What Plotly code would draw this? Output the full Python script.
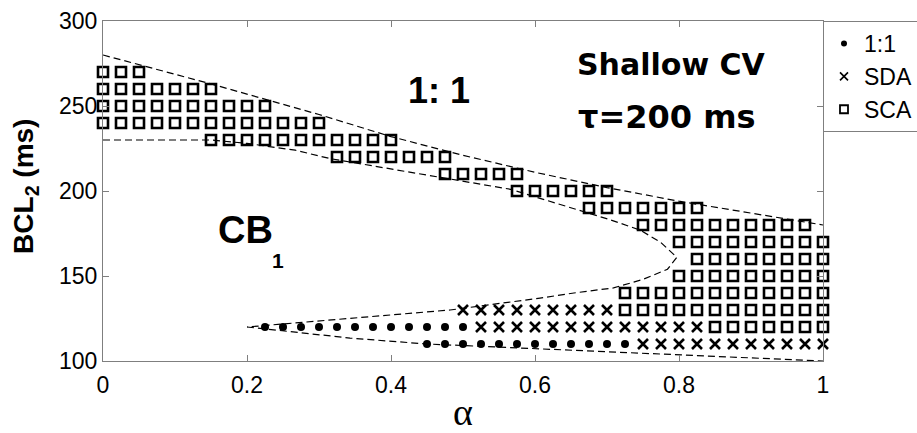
import plotly.graph_objects as go

# ---- data ----
# SCA (squares): BCL row -> alpha values
sca_bcl = [270, 260, 250, 240, 230, 220, 210, 200, 190, 180, 170, 160, 150, 140, 130, 120]
sca_alpha = [
    [0, 0.025, 0.05],
    [0, 0.025, 0.05, 0.075, 0.1, 0.125, 0.15],
    [0, 0.025, 0.05, 0.075, 0.1, 0.125, 0.15, 0.175, 0.2, 0.225],
    [0, 0.025, 0.05, 0.075, 0.1, 0.125, 0.15, 0.175, 0.2, 0.225, 0.25, 0.275, 0.3],
    [0.15, 0.175, 0.2, 0.225, 0.25, 0.275, 0.3, 0.325, 0.35, 0.375, 0.4],
    [0.325, 0.35, 0.375, 0.4, 0.425, 0.45, 0.475],
    [0.475, 0.5, 0.525, 0.55, 0.575],
    [0.575, 0.6, 0.625, 0.65, 0.675, 0.7],
    [0.675, 0.7, 0.725, 0.75, 0.775, 0.8, 0.825],
    [0.75, 0.775, 0.8, 0.825, 0.85, 0.875, 0.9, 0.925, 0.95, 0.975],
    [0.8, 0.825, 0.85, 0.875, 0.9, 0.925, 0.95, 0.975, 1.0],
    [0.825, 0.85, 0.875, 0.9, 0.925, 0.95, 0.975, 1.0],
    [0.8, 0.825, 0.85, 0.875, 0.9, 0.925, 0.95, 0.975, 1.0],
    [0.725, 0.75, 0.775, 0.8, 0.825, 0.85, 0.875, 0.9, 0.925, 0.95, 0.975, 1.0],
    [0.725, 0.75, 0.775, 0.8, 0.825, 0.85, 0.875, 0.9, 0.925, 0.95, 0.975, 1.0],
    [0.85, 0.875, 0.9, 0.925, 0.95, 0.975, 1.0],
]

# SDA (crosses)
sda_bcl = [130, 120, 110]
sda_alpha = [
    [0.5, 0.525, 0.55, 0.575, 0.6, 0.625, 0.65, 0.675, 0.7],
    [0.525, 0.55, 0.575, 0.6, 0.625, 0.65, 0.675, 0.7, 0.725, 0.75, 0.775, 0.8, 0.825],
    [0.75, 0.775, 0.8, 0.825, 0.85, 0.875, 0.9, 0.925, 0.95, 0.975, 1.0],
]

# 1:1 (dots)
one_bcl = [120, 110]
one_alpha = [
    [0.225, 0.25, 0.275, 0.3, 0.325, 0.35, 0.375, 0.4, 0.425, 0.45, 0.475, 0.5],
    [0.45, 0.475, 0.5, 0.525, 0.55, 0.575, 0.6, 0.625, 0.65, 0.675, 0.7, 0.725],
]

# dashed boundary curves
upper_alpha = [0, 0.15, 0.3, 0.4, 0.5, 0.6, 0.7, 0.8, 0.9, 1.0]
upper_bcl = [280, 263, 245, 232, 221, 211, 202, 194, 187, 180]

nose_alpha = [0, 0.15, 0.2, 0.267, 0.316, 0.397, 0.469, 0.566, 0.635, 0.705, 0.746,
              0.774, 0.797, 0.784, 0.75, 0.709, 0.654, 0.607, 0.482, 0.343, 0.2]
nose_bcl = [230, 230, 228, 224, 219, 213, 208, 201, 192, 183, 177,
            170, 161, 154, 148, 143, 140, 137, 130, 125, 120]

lower_alpha = [0.2, 0.343, 0.45, 0.607, 0.709, 0.8, 1.0]
lower_bcl = [120, 113.5, 110, 107.2, 105.6, 103.7, 100]

x_ticks = [0, 0.2, 0.4, 0.6, 0.8, 1]
x_ticklabels = ["0", "0.2", "0.4", "0.6", "0.8", "1"]
y_ticks = [100, 150, 200, 250, 300]
y_ticklabels = ["100", "150", "200", "250", "300"]

legend_names = ["1:1", "SDA", "SCA"]


def flatten(rows_alpha, rows_bcl):
    xs, ys = [], []
    for a_list, b in zip(rows_alpha, rows_bcl):
        xs.extend(a_list)
        ys.extend([b] * len(a_list))
    return xs, ys


fig = go.Figure()

dash_style = dict(color="black", width=1.2, dash="7px,4px")
for ax, ay in [(upper_alpha, upper_bcl), (nose_alpha, nose_bcl), (lower_alpha, lower_bcl)]:
    fig.add_trace(go.Scatter(x=ax, y=ay, mode="lines", line=dash_style,
                             showlegend=False, hoverinfo="skip"))

ox, oy = flatten(one_alpha, one_bcl)
fig.add_trace(go.Scatter(x=ox, y=oy, mode="markers", cliponaxis=False, showlegend=False,
                         marker=dict(symbol="circle", size=8, color="black")))
dx, dy = flatten(sda_alpha, sda_bcl)
fig.add_trace(go.Scatter(x=dx, y=dy, mode="markers", cliponaxis=False, showlegend=False,
                         marker=dict(symbol="x-thin-open", size=10, color="black",
                                     line=dict(color="black", width=2.6))))
sx, sy = flatten(sca_alpha, sca_bcl)
fig.add_trace(go.Scatter(x=sx, y=sy, mode="markers", cliponaxis=False, showlegend=False,
                         marker=dict(symbol="square-open", size=10, color="black",
                                     line=dict(color="black", width=2.6))))

# legend entries
fig.add_trace(go.Scatter(x=[None], y=[None], mode="markers", name=legend_names[0],
                         marker=dict(symbol="circle", size=6, color="black")))
fig.add_trace(go.Scatter(x=[None], y=[None], mode="markers", name=legend_names[1],
                         marker=dict(symbol="x-thin-open", size=8, color="black",
                                     line=dict(color="black", width=1.6))))
fig.add_trace(go.Scatter(x=[None], y=[None], mode="markers", name=legend_names[2],
                         marker=dict(symbol="square-open", size=8, color="black",
                                     line=dict(color="black", width=1.8))))

axis_color = "#7f7f7f"
tick_font = dict(family="Liberation Sans, Arial, sans-serif", size=23, color="black")

fig.update_xaxes(range=[0, 1], tickvals=x_ticks, ticktext=x_ticklabels,
                 showline=True, linecolor=axis_color, linewidth=1, mirror="ticks",
                 ticks="inside", ticklen=6, tickcolor=axis_color, showgrid=False,
                 zeroline=False, tickfont=tick_font, ticklabelstandoff=3)
fig.update_yaxes(range=[100, 300], tickvals=y_ticks, ticktext=y_ticklabels,
                 showline=True, linecolor=axis_color, linewidth=1, mirror="ticks",
                 ticks="inside", ticklen=6, tickcolor=axis_color, showgrid=False,
                 zeroline=False, tickfont=tick_font)

bold = "DejaVu Sans, sans-serif"
arial = "Liberation Sans, Arial, sans-serif"
annotations = [
    dict(x=0.467, y=259.3, text="<b>1: 1</b>", font=dict(family=arial, size=36, color="black")),
    dict(x=0.198, y=177.1, text="<b>CB</b>", font=dict(family=arial, size=38, color="black")),
    dict(x=0.243, y=159.2, text="<b>1</b>", font=dict(family=arial, size=21, color="black")),
    dict(x=0.789, y=274.5, text="<b>Shallow CV</b>", font=dict(family=bold, size=30, color="black")),
    dict(x=0.783, y=243.6, text="<b>τ=200 ms</b>", font=dict(family=bold, size=32, color="black")),
]
for a in annotations:
    a.update(xref="x", yref="y", showarrow=False, xanchor="center", yanchor="middle")

annotations.append(dict(xref="paper", yref="paper", x=0, y=0.512, xshift=-77,
                        text="<b>BCL<sub>2</sub> (ms)</b>", textangle=-90, showarrow=False,
                        xanchor="center", yanchor="middle",
                        font=dict(family=arial, size=28, color="black")))
annotations.append(dict(xref="paper", yref="paper", x=0.5, y=-0.15, text="α",
                        showarrow=False, xanchor="center", yanchor="middle",
                        font=dict(family="Liberation Serif, serif", size=38, color="black")))

fig.update_layout(
    width=917, height=433,
    margin=dict(l=103, r=94, t=21, b=72, autoexpand=False),
    paper_bgcolor="white", plot_bgcolor="white",
    annotations=annotations,
    legend=dict(x=1, y=1, xanchor="left", yanchor="top", bordercolor=axis_color,
                borderwidth=1, bgcolor="white",
                font=dict(family=arial, size=23, color="black"),
                tracegroupgap=0, itemwidth=30),
)

fig.write_html("out.html")
